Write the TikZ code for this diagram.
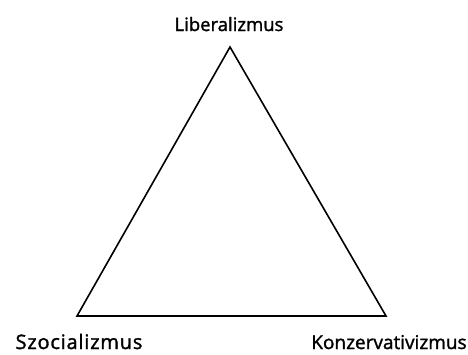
\documentclass[tikz,border=0pt]{standalone}
\usepackage{fontspec}
\setmainfont{Open Sans}
\begin{document}
\begin{tikzpicture}[x=1pt,y=-1pt,
  lbl/.style={inner sep=0pt,anchor=base},
  edge/.style={draw,line width=1.6pt,line join=miter}]
  \useasboundingbox (0,0) rectangle (468,354);
  \coordinate (top) at (230,47);
  \coordinate (left) at (77,316);
  \coordinate (right) at (386,316);
  \node[lbl,font=\fontsize{18.5}{20}\selectfont\addfontfeature{FakeBold=1.5}] (lib) at (229,31){Liberalizmus};
  \node[lbl,font=\fontsize{20}{22}\selectfont\addfontfeature{FakeBold=1.5,LetterSpace=4}] (szo) at (79,349){Szocializmus};
  \node[lbl,font=\fontsize{19}{21}\selectfont\addfontfeature{FakeBold=1.5}] (kon) at (389,349){Konzervativizmus};
  \draw[edge] (top) -- (right) -- (left) -- cycle;
\end{tikzpicture}
\end{document}
